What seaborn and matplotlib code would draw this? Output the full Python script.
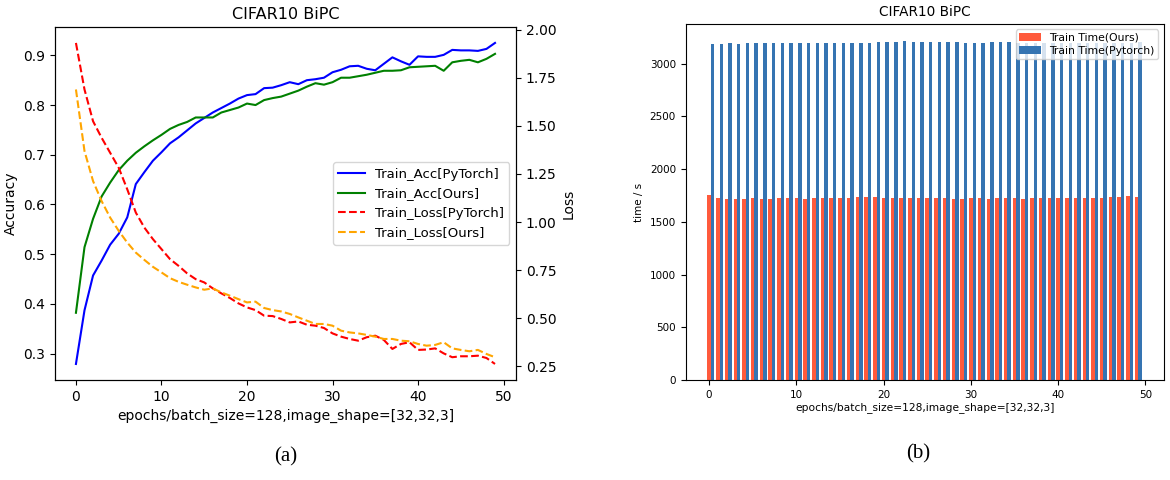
import matplotlib
matplotlib.use("Agg")
import matplotlib.pyplot as plt
import seaborn as sns
import numpy as np

epochs = np.arange(50)

acc_pytorch = [0.279, 0.387, 0.457, 0.487, 0.519, 0.541, 0.574, 0.641, 0.665, 0.688,
               0.705, 0.723, 0.735, 0.749, 0.763, 0.774, 0.785, 0.794, 0.803, 0.813,
               0.820, 0.822, 0.834, 0.835, 0.840, 0.846, 0.842, 0.850, 0.852, 0.855,
               0.866, 0.871, 0.878, 0.879, 0.873, 0.870, 0.883, 0.896, 0.888, 0.881,
               0.898, 0.897, 0.897, 0.901, 0.911, 0.910, 0.910, 0.909, 0.913, 0.925]
acc_ours = [0.382, 0.514, 0.571, 0.616, 0.644, 0.669, 0.688, 0.704, 0.717, 0.729,
            0.740, 0.752, 0.760, 0.766, 0.775, 0.775, 0.775, 0.785, 0.790, 0.795,
            0.803, 0.800, 0.810, 0.814, 0.817, 0.823, 0.829, 0.837, 0.844, 0.841,
            0.846, 0.855, 0.855, 0.858, 0.861, 0.865, 0.869, 0.869, 0.870, 0.876,
            0.877, 0.878, 0.879, 0.869, 0.886, 0.889, 0.891, 0.886, 0.893, 0.903]
loss_pytorch = [1.931, 1.689, 1.524, 1.438, 1.360, 1.282, 1.170, 1.049, 0.971, 0.911,
                0.859, 0.807, 0.772, 0.733, 0.703, 0.686, 0.655, 0.629, 0.605, 0.577,
                0.556, 0.542, 0.513, 0.511, 0.496, 0.478, 0.483, 0.466, 0.461, 0.449,
                0.421, 0.404, 0.392, 0.383, 0.401, 0.409, 0.387, 0.340, 0.366, 0.375,
                0.335, 0.337, 0.343, 0.317, 0.297, 0.302, 0.302, 0.305, 0.293, 0.262]
loss_ours = [1.689, 1.369, 1.213, 1.109, 1.023, 0.954, 0.893, 0.841, 0.803, 0.767,
             0.738, 0.708, 0.689, 0.674, 0.660, 0.648, 0.655, 0.634, 0.617, 0.599,
             0.582, 0.586, 0.553, 0.542, 0.535, 0.522, 0.504, 0.487, 0.470, 0.470,
             0.461, 0.435, 0.426, 0.421, 0.413, 0.404, 0.392, 0.392, 0.383, 0.380,
             0.366, 0.357, 0.361, 0.375, 0.343, 0.335, 0.328, 0.335, 0.314, 0.297]

time_ours = [1759, 1724, 1718, 1721, 1721, 1730, 1721, 1715, 1724, 1730,
             1724, 1718, 1724, 1730, 1724, 1730, 1730, 1740, 1740, 1734,
             1724, 1724, 1724, 1730, 1724, 1730, 1724, 1724, 1721, 1718,
             1724, 1730, 1718, 1724, 1730, 1724, 1721, 1727, 1730, 1730,
             1724, 1724, 1724, 1730, 1724, 1730, 1740, 1740, 1743, 1740]
time_pytorch = [3191, 3188, 3194, 3191, 3194, 3200, 3200, 3200, 3194, 3200,
                3200, 3200, 3200, 3200, 3200, 3200, 3200, 3200, 3200, 3207,
                3207, 3207, 3216, 3210, 3207, 3207, 3207, 3207, 3204, 3200,
                3194, 3200, 3204, 3204, 3207, 3200, 3197, 3200, 3194, 3197,
                3194, 3197, 3200, 3194, 3197, 3200, 3194, 3197, 3200, 3204]

title = "CIFAR10 BiPC"
xlabel = "epochs/batch_size=128,image_shape=[32,32,3]"

fig = plt.figure(figsize=(11.7, 4.8), dpi=100)

# (a) accuracy + loss on twin axes
ax1 = fig.add_axes([0.047, 0.2083, 0.394, 0.7357])
ax2 = ax1.twinx()
sns.lineplot(x=epochs, y=acc_pytorch, ax=ax1, color="blue", label="Train_Acc[PyTorch]")
sns.lineplot(x=epochs, y=acc_ours, ax=ax1, color="green", label="Train_Acc[Ours]")
sns.lineplot(x=epochs, y=loss_pytorch, ax=ax2, color="red", linestyle="--", label="Train_Loss[PyTorch]")
sns.lineplot(x=epochs, y=loss_ours, ax=ax2, color="orange", linestyle="--", label="Train_Loss[Ours]")
h1, l1 = ax1.get_legend_handles_labels()
h2, l2 = ax2.get_legend_handles_labels()
ax1.get_legend().remove()
ax2.get_legend().remove()
ax2.legend(h1 + h2, l1 + l2, loc="center right", fontsize=9.5)
ax1.set_xticks([0, 10, 20, 30, 40, 50])
ax1.set_ylabel("Accuracy", fontsize=10)
ax2.set_ylabel("Loss", fontsize=10)
ax1.set_xlabel(xlabel, fontsize=10)
ax1.set_title(title, fontsize=11.5)

# (b) train time bars
ax3 = fig.add_axes([0.586, 0.2083, 0.4085, 0.7417])
w = 0.4
ax3.bar(epochs, time_ours, width=w, color="#ff5a3c", label="Train Time(Ours)")
ax3.bar(epochs + w, time_pytorch, width=w, color="#3574b2", label="Train Time(Pytorch)")
ax3.set_xticks([0, 10, 20, 30, 40, 50])
ax3.tick_params(labelsize=7.5)
ax3.set_ylabel("time / s", fontsize=7.5)
ax3.set_xlabel(xlabel, fontsize=7.7, labelpad=2)
ax3.set_title(title, fontsize=9.8)
ax3.legend(loc="upper right", fontsize=7.8, borderpad=0.3, labelspacing=0.3)

fig.text(0.244, 0.038, "(a)", family="Liberation Serif", fontsize=15, ha="center")
fig.text(0.785, 0.045, "(b)", family="Liberation Serif", fontsize=15, ha="center")

fig.savefig("out.png", dpi=100)
